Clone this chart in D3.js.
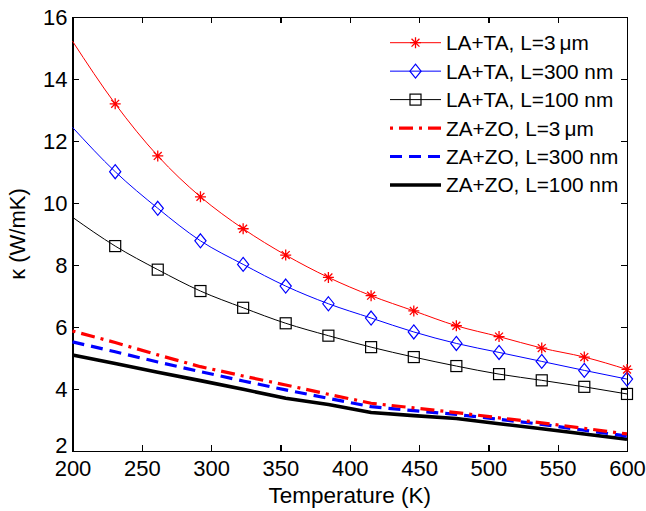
<!DOCTYPE html>
<html lang="en">
<head>
<meta charset="UTF-8">
<title>kappa vs temperature</title>
<script src="https://cdn.jsdelivr.net/npm/d3@7/dist/d3.min.js"></script>
<style>
    body { margin: 0; background: #fff; }
    svg text { font-family: "Liberation Sans", Arial, Helvetica, sans-serif; fill: #000; }
    .axis path, .axis line { fill: none; stroke: #000; stroke-width: 1.3; shape-rendering: crispEdges; }
    .axis text { font-size: 22px; }
</style>
</head>
<body>
<script>
    // temperature grid (K); markers sit on every point but the first
    let temps = [200, 230.8, 261.5, 292.3, 323.1, 353.8, 384.6, 415.4, 446.2, 476.9, 507.7, 538.5, 569.2, 600];

    let laTa3um  = [15.22, 13.2, 11.52, 10.2, 9.17, 8.32, 7.6, 7.01, 6.52, 6.04, 5.69, 5.32, 5.03, 4.63];
    let laTa300  = [12.44, 11.01, 9.83, 8.78, 8.02, 7.32, 6.75, 6.29, 5.84, 5.47, 5.18, 4.89, 4.6, 4.32];
    let laTa100  = [9.54, 8.61, 7.85, 7.16, 6.62, 6.12, 5.72, 5.35, 5.03, 4.74, 4.48, 4.28, 4.07, 3.84];
    let zaZo3um  = [5.87, 5.5, 5.1, 4.72, 4.42, 4.13, 3.83, 3.54, 3.39, 3.24, 3.07, 2.91, 2.73, 2.55];
    let zaZo300  = [5.52, 5.2, 4.87, 4.56, 4.26, 3.97, 3.7, 3.43, 3.3, 3.18, 3.02, 2.86, 2.67, 2.48];
    let zaZo100  = [5.1, 4.82, 4.54, 4.27, 3.99, 3.7, 3.5, 3.24, 3.14, 3.05, 2.88, 2.72, 2.55, 2.38];

    let xTicks = [200, 250, 300, 350, 400, 450, 500, 550, 600];
    let yTicks = [2, 4, 6, 8, 10, 12, 14, 16];

    let series = [
        {name: 'LA+TA, L=3\u2009\u03bcm', values: laTa3um, color: '#ff0000', width: 1, dash: null, marker: 'star', smooth: true},
        {name: 'LA+TA, L=300 nm', values: laTa300, color: '#0000ff', width: 1, dash: null, marker: 'diamond', smooth: true},
        {name: 'LA+TA, L=100 nm', values: laTa100, color: '#000000', width: 1, dash: null, marker: 'square', smooth: true},
        {name: 'ZA+ZO, L=3\u2009\u03bcm', values: zaZo3um, color: '#ff0000', width: 3.2, dash: '3,6,14,6', marker: null, smooth: false},
        {name: 'ZA+ZO, L=300 nm', values: zaZo300, color: '#0000ff', width: 3.2, dash: '12,7', marker: null, smooth: false},
        {name: 'ZA+ZO, L=100 nm', values: zaZo100, color: '#000000', width: 3.6, dash: null, marker: null, smooth: false}
    ];

    let width = 646, height = 511;
    let margin = {left: 72.5, right: 19, top: 17, bottom: 60};

    let svg = d3.select('body').append('svg')
        .attr('width', width)
        .attr('height', height);

    let x = d3.scaleLinear().domain([200, 600]).range([margin.left, width - margin.right]);
    let y = d3.scaleLinear().domain([2, 16]).range([height - margin.bottom, margin.top]);

    // inward ticks on all four sides
    let tickLen = 6;
    svg.append('g').attr('class', 'axis')
        .attr('transform', 'translate(0,' + y(2) + ')')
        .call(d3.axisBottom(x).tickValues(xTicks).tickSizeInner(-tickLen).tickSizeOuter(0).tickPadding(9));
    svg.append('g').attr('class', 'axis')
        .attr('transform', 'translate(' + x(200) + ',0)')
        .call(d3.axisLeft(y).tickValues(yTicks).tickSizeInner(-tickLen).tickSizeOuter(0).tickPadding(5));
    svg.append('g').attr('class', 'axis')
        .attr('transform', 'translate(0,' + y(16) + ')')
        .call(d3.axisTop(x).tickValues(xTicks).tickSizeInner(-tickLen).tickSizeOuter(0).tickFormat(''));
    svg.append('g').attr('class', 'axis')
        .attr('transform', 'translate(' + x(600) + ',0)')
        .call(d3.axisRight(y).tickValues(yTicks).tickSizeInner(-tickLen).tickSizeOuter(0).tickFormat(''));

    svg.selectAll('.axis .tick text').attr('fill', '#000');
    // lift the lowest y label a touch so it clears the "200" below it
    svg.selectAll('.axis .tick text').filter(function (d) { return d === 2; }).attr('dy', '0.05em');

    // axis titles
    svg.append('text')
        .attr('x', (x(200) + x(600)) / 2)
        .attr('y', 503)
        .attr('text-anchor', 'middle')
        .style('font-size', '22.5px')
        .text('Temperature (K)');
    svg.append('text')
        .attr('transform', 'translate(25,' + ((y(2) + y(16)) / 2) + ') rotate(-90)')
        .attr('text-anchor', 'middle')
        .style('font-size', '22px')
        .text('\u03ba (W/mK)');

    let plot = svg.append('g');

    function lineFor(s) {
        return d3.line()
            .x(function (d, i) { return x(temps[i]); })
            .y(function (d) { return y(d); })
            .curve(s.smooth ? d3.curveMonotoneX : d3.curveLinear);
    }

    function drawMarker(g, type, color) {
        if (type === 'star') {
            let r = 5.5, k = r * 0.72;
            g.append('path')
                .attr('d', 'M' + (-r) + ',0H' + r + 'M0,' + (-r) + 'V' + r +
                    'M' + (-k) + ',' + (-k) + 'L' + k + ',' + k + 'M' + (-k) + ',' + k + 'L' + k + ',' + (-k))
                .attr('stroke', color).attr('stroke-width', 1.3).attr('fill', 'none');
        } else if (type === 'diamond') {
            let r = 7;
            g.append('path')
                .attr('d', 'M0,' + (-r) + 'L' + (r * 0.8) + ',0L0,' + r + 'L' + (-r * 0.8) + ',0Z')
                .attr('stroke', color).attr('stroke-width', 1.2).attr('fill', 'none');
        } else if (type === 'square') {
            let r = 5.5;
            g.append('rect')
                .attr('x', -r).attr('y', -r).attr('width', 2 * r).attr('height', 2 * r)
                .attr('stroke', color).attr('stroke-width', 1.2).attr('fill', 'none');
        }
    }

    // draw thick ZA+ZO lines first, then LA+TA on top
    series.slice().reverse().forEach(function (s) {
        plot.append('path')
            .datum(s.values)
            .attr('d', lineFor(s))
            .attr('fill', 'none')
            .attr('stroke', s.color)
            .attr('stroke-width', s.width)
            .attr('stroke-dasharray', s.dash)
            .attr('stroke-linejoin', 'round');
        if (s.marker) {
            s.values.forEach(function (v, i) {
                if (i === 0) return;
                let g = plot.append('g').attr('transform', 'translate(' + x(temps[i]) + ',' + y(v) + ')');
                drawMarker(g, s.marker, s.color);
            });
        }
    });

    // legend (no frame)
    let legend = svg.append('g');
    let rowY = 42.7, rowStep = 28.45;
    series.forEach(function (s, i) {
        let g = legend.append('g').attr('transform', 'translate(0,' + (rowY + i * rowStep) + ')');
        g.append('line')
            .attr('x1', 390).attr('x2', 441)
            .attr('y1', 0).attr('y2', 0)
            .attr('stroke', s.color)
            .attr('stroke-width', s.width)
            .attr('stroke-dasharray', s.dash);
        if (s.marker) {
            let m = g.append('g').attr('transform', 'translate(415.5,0)');
            drawMarker(m, s.marker, s.color);
        }
        g.append('text')
            .attr('x', 446)
            .attr('y', 0)
            .attr('dy', '0.36em')
            .style('font-size', '20.8px')
            .text(s.name);
    });
</script>
</body>
</html>
